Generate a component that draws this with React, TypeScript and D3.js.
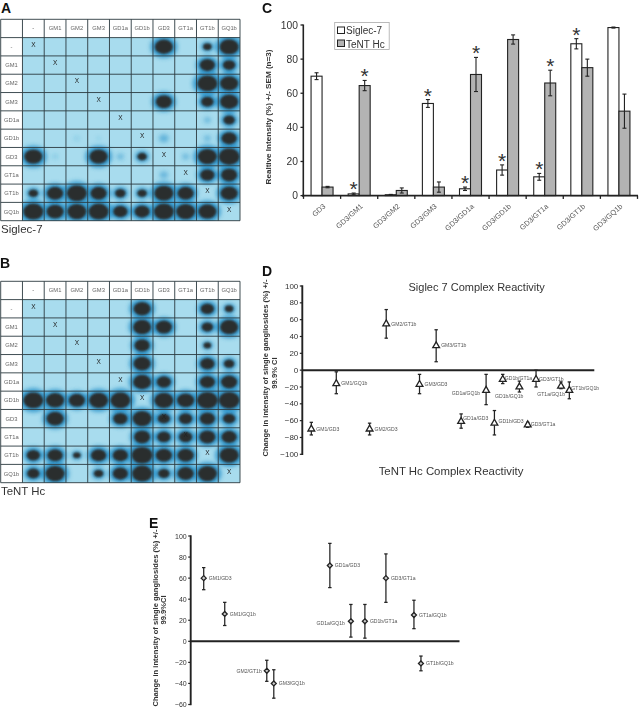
import React from "react";
import * as d3 from "d3";

const FONT = "'Liberation Sans', Arial, sans-serif";
const DARK = "#222";

const gangliosides = ["-", "GM1", "GM2", "GM3", "GD1a", "GD1b", "GD3", "GT1a", "GT1b", "GQ1b"];

const blotA = [
  [0, 0, 0, 0, 0, 0, 0.95, 0, 0.45, 1],
  [0, 0, 0, 0, 0, 0, 0, 0, 0.8, 0.65],
  [0, 0, 0, 0, 0, 0, 0, 0, 1.05, 0.95],
  [0, 0, 0, 0, 0, 0, 0.85, 0, 0.65, 0.95],
  [0, 0, 0, 0, 0, 0, 0, 0, 0.2, 0.6],
  [0, 0, 0.08, 0.04, 0, 0, 0.3, 0, 0.2, 0.8],
  [0.95, 0.1, 0, 0.95, 0.2, 0.5, 0, 0.2, 1, 1.1],
  [0, 0, 0, 0, 0, 0, 0.25, 0, 0.75, 0.85],
  [0.5, 0.85, 1.05, 0.85, 0.55, 0.5, 1, 0.85, 0, 0.9],
  [1.05, 0.9, 1.0, 1.05, 0.75, 0.8, 1.05, 1, 0.95, 0],
];
const blotB = [
  [0, 0, 0, 0, 0, 0.9, 0, 0, 0.7, 0.45],
  [0, 0, 0, 0, 0, 0.95, 0.85, 0, 0.6, 0.95],
  [0, 0, 0, 0, 0, 0.8, 0, 0, 0.4, 0],
  [0, 0, 0, 0, 0, 0.9, 0, 0, 0.75, 0.55],
  [0, 0, 0, 0, 0, 0.95, 0.75, 0, 0.8, 0.85],
  [1.05, 0.95, 0.85, 1, 1.05, 0, 1, 0.9, 1.1, 1.1],
  [0, 0.9, 0, 0, 0.75, 1, 0.65, 0.7, 0.8, 0.65],
  [0, 0, 0, 0, 0, 0.85, 0.7, 0.7, 0.85, 0.8],
  [0.7, 0.8, 0.4, 0.8, 0.8, 1.1, 0.85, 0.85, 0, 1],
  [0.65, 1, 0, 0.5, 0.8, 1.05, 0.6, 0.85, 1, 0],
];

const pairsC = ["GD3", "GD3/GM1", "GD3/GM2", "GD3/GM3", "GD3/GD1a", "GD3/GD1b", "GD3/GT1a", "GD3/GT1b", "GD3/GQ1b"];
const siglecValues = [70, 1, 0.5, 54, 4, 15, 11, 89, 98.5];
const siglecErrors = [2, 0.5, 0.2, 2.3, 1, 3, 2, 3, 0.3];
const tentValues = [5, 64.5, 3, 5, 71, 91.5, 66, 75, 49.5];
const tentErrors = [0.4, 3, 1.5, 3, 10, 2.7, 7.5, 5, 10];
const siglecStars = [false, true, false, true, true, true, true, true, false];
const tentStars = [false, true, false, false, true, false, true, false, false];
const ticksC = [0, 20, 40, 60, 80, 100];

const labelsD = ["GM1/GD3", "GM1/GQ1b", "GM2/GD3", "GM2/GT1b", "GM3/GD3", "GM3/GT1b", "GD1a/GD3", "GD1a/GQ1b", "GD1b/GD3", "GD1b/GT1a", "GD1b/GQ1b", "GD3/GT1a", "GD3/GT1b", "GT1a/GQ1b", "GT1b/GQ1b"];
const orderD = [1, 4, 8, 10, 14, 16, 19, 22, 23, 24, 26, 27, 28, 31, 32];
const valuesD = [-70, -16, -70, 55, -17, 29, -61, -24, -63, -11, -20, -65, -11, -19, -24];
const lowD = [-77, -28, -77, 38, -28, 10, -69, -41, -77, -16, -26, -68, -20, -22, -34];
const highD = [-62, -2, -63, 72, -5, 48, -52, -5, -48, -5, -13, -62, 0, -14, -14];
const ticksD = [-100, -80, -60, -40, -20, 0, 20, 40, 60, 80, 100];
const labelOffsetD: Record<string, [number, number, string]> = {
  "GD1a/GQ1b": [-6, 3, "end"],
  "GD1b/GQ1b": [4, 9, "end"],
  "GT1a/GQ1b": [4, 8, "end"],
  "GD1b/GT1a": [2, -1, "start"],
  "GT1b/GQ1b": [2, -2, "start"],
  "GD3/GT1b": [3, 0, "start"],
  "GD1a/GD3": [2, -3, "start"],
  "GD1b/GD3": [4, -2, "start"],
  "GD3/GT1a": [3, -1, "start"],
};

const labelsE = ["GM1/GD3", "GM1/GQ1b", "GM2/GT1b", "GM3/GQ1b", "GD1a/GD3", "GD1a/GQ1b", "GD1b/GT1a", "GD3/GT1a", "GT1a/GQ1b", "GT1b/GQ1b"];
const orderE = [2, 5, 11, 12, 20, 23, 25, 28, 32, 33];
const valuesE = [60, 26, -28, -40, 72, 19, 19, 60, 25, -21];
const lowE = [49, 15, -38, -54, 51, 4, 3, 37, 12, -28];
const highE = [70, 37, -18, -27, 93, 35, 35, 83, 39, -14];
const ticksE = [-60, -40, -20, 0, 20, 40, 60, 80, 100];
const labelOffsetE: Record<string, [number, number, string]> = {
  "GM2/GT1b": [-5, 0, "end"],
  "GD1a/GQ1b": [-6, 2, "end"],
};

function Blot({ top, bottom, matrix, labels, id }: any) {
  const x = d3.scaleBand<number>().domain(d3.range(11)).range([0.7, 240]);
  const y = d3.scaleBand<number>().domain(d3.range(11)).range([top, bottom]);
  const bw = x.bandwidth();
  const bh = y.bandwidth();
  const spots = matrix.flatMap((row: number[], r: number) =>
    row.map((v, c) => ({ r, c, v })).filter((d) => d.v > 0)
  );
  const cx = (c: number) => x(c + 1)! + bw / 2;
  const cy = (r: number) => y(r + 1)! + bh / 2;
  return (
    <g>
      <clipPath id={id}>
        <rect x={x(1)} y={y(1)} width={240 - x(1)!} height={bottom - y(1)!} />
      </clipPath>
      <rect x={x(1)} y={y(1)} width={240 - x(1)!} height={bottom - y(1)!} fill="#a8dcee" />
      <g clipPath={`url(#${id})`}>
        <g filter="url(#halo)">
          {spots.map((d: any) => (
            <ellipse key={`h${d.r}-${d.c}`} cx={cx(d.c)} cy={cy(d.r)} rx={d.v * 13 + 1} ry={d.v * 10.5 + 1} fill="#3398cc" opacity={Math.min(0.95, d.v + 0.3)} />
          ))}
        </g>
        <g filter="url(#core)">
          {spots.filter((d: any) => d.v >= 0.35).map((d: any) => (
            <ellipse key={`s${d.r}-${d.c}`} cx={cx(d.c)} cy={cy(d.r)} rx={d.v * 9.6} ry={d.v * 7.6} fill="#2a2d2f" />
          ))}
        </g>
      </g>
      {d3.range(12).map((i) => {
        const xp = i === 11 ? 240 : x(i)!;
        const yp = i === 11 ? bottom : y(i)!;
        return (
          <g key={i}>
            <line x1={xp} x2={xp} y1={top} y2={bottom} stroke="#2b3a40" strokeWidth={0.9} />
            <line x1={0.7} x2={240} y1={yp} y2={yp} stroke="#2b3a40" strokeWidth={0.9} />
          </g>
        );
      })}
      {labels.map((c: string, i: number) => (
        <g key={i}>
          <text x={x(i + 1)! + bw / 2} y={y(0)! + bh / 2 + 2} fontSize={5.8} fill="#666" textAnchor="middle">{c}</text>
          <text x={x(0)! + bw / 2} y={y(i + 1)! + bh / 2 + 2} fontSize={5.8} fill="#666" textAnchor="middle">{c}</text>
          <text x={cx(i)} y={cy(i)} fontSize={6.5} fill="#222" textAnchor="middle">X</text>
        </g>
      ))}
    </g>
  );
}

function ChartC() {
  const x0 = d3.scaleBand().domain(pairsC).range([303.5, 637.5]);
  const inner = d3.scaleBand().domain(["s", "t"]).range([0, 22]);
  const y = d3.scaleLinear().domain([0, 100]).range([195.6, 25]);
  const bx = (p: string) => x0(p)! + x0.bandwidth() / 2 - 11;
  const Err = ({ cx, v, e }: any) => (
    <g stroke={DARK} strokeWidth={1.1}>
      <line x1={cx} x2={cx} y1={y(v - e)} y2={y(v + e)} />
      <line x1={cx - 2} x2={cx + 2} y1={y(v - e)} y2={y(v - e)} />
      <line x1={cx - 2} x2={cx + 2} y1={y(v + e)} y2={y(v + e)} />
    </g>
  );
  const Star = ({ cx, yy }: any) => (
    <text x={cx} y={yy} fontSize={21} textAnchor="middle" fill="#333">*</text>
  );
  return (
    <g>
      {pairsC.map((p, i) => (
        <g key={p}>
          <rect x={bx(p) + inner("s")!} y={y(siglecValues[i])} width={inner.bandwidth()} height={y(0) - y(siglecValues[i])} fill="#fff" stroke={DARK} strokeWidth={1.1} />
          <rect x={bx(p) + inner("t")!} y={y(tentValues[i])} width={inner.bandwidth()} height={y(0) - y(tentValues[i])} fill="#b3b3b3" stroke={DARK} strokeWidth={1.1} />
          <Err cx={bx(p) + 5.5} v={siglecValues[i]} e={siglecErrors[i]} />
          <Err cx={bx(p) + 16.5} v={tentValues[i]} e={tentErrors[i]} />
          {siglecStars[i] && <Star cx={bx(p) + 5.5} yy={y(siglecValues[i] + siglecErrors[i]) + 3} />}
          {tentStars[i] && <Star cx={bx(p) + 16.5} yy={y(tentValues[i] + tentErrors[i]) + 3} />}
          <text transform={`translate(${x0(p)! + x0.bandwidth() / 2 + 4},${207}) rotate(-42)`} fontSize={7.3} fill="#555" textAnchor="end">{p}</text>
        </g>
      ))}
      <line x1={303.3} x2={303.3} y1={24.5} y2={197} stroke={DARK} strokeWidth={1.6} />
      <line x1={302} x2={638} y1={y(0)} y2={y(0)} stroke={DARK} strokeWidth={1.8} />
      {ticksC.map((t) => (
        <g key={t}>
          <line x1={300.5} x2={303.3} y1={y(t)} y2={y(t)} stroke={DARK} strokeWidth={1.3} />
          <text x={298} y={y(t) + 3.6} fontSize={10.3} textAnchor="end" fill="#333">{t}</text>
        </g>
      ))}
      {d3.range(10).map((i) => {
        const xp = 303.5 + i * x0.step();
        return <line key={i} x1={xp} x2={xp} y1={y(0)} y2={y(0) + 3.3} stroke={DARK} strokeWidth={1.3} />;
      })}
      <text transform="translate(271,117) rotate(-90)" fontSize={8.1} fontWeight="bold" textAnchor="middle" fill="#333">Realtive Intensity (%) +/- SEM (n=3)</text>
      <rect x={334.7} y={22.5} width={54.5} height={27} fill="#fff" stroke="#aaa" strokeWidth={0.8} />
      <rect x={337.5} y={27} width={7} height={6.5} fill="#fff" stroke={DARK} strokeWidth={1} />
      <rect x={337.5} y={40} width={7} height={6.5} fill="#b3b3b3" stroke={DARK} strokeWidth={1} />
      <text x={346} y={34} fontSize={10} fill="#333">Siglec-7</text>
      <text x={346} y={47.7} fontSize={10} fill="#333">TeNT Hc</text>
    </g>
  );
}

function Scatter({ labels, order, values, low, high, ticks, x, y, axisX, symbol, offsets, size, fill, tickFont, lineEnd }: any) {
  const path = d3.symbol().type(symbol).size(size)()!;
  return (
    <g>
      <line x1={axisX} x2={axisX} y1={y(ticks[ticks.length - 1]) - 0.7} y2={y(ticks[0]) + 0.7} stroke={DARK} strokeWidth={1.9} />
      <line x1={axisX} x2={lineEnd} y1={y(0)} y2={y(0)} stroke={DARK} strokeWidth={2} />
      {ticks.map((t: number) => (
        <g key={t}>
          <line x1={axisX - 2.5} x2={axisX} y1={y(t)} y2={y(t)} stroke={DARK} strokeWidth={1.2} />
          <text x={axisX - 4} y={y(t) + 2.6} fontSize={tickFont} textAnchor="end" fill="#333">{String(t).replace("-", "\u2212")}</text>
        </g>
      ))}
      {labels.map((l: string, i: number) => {
        const cx = x(order[i]);
        const off = offsets[l] || [5, 0, "start"];
        return (
          <g key={l}>
            <g stroke={DARK} strokeWidth={1.25}>
              <line x1={cx} x2={cx} y1={y(low[i])} y2={y(high[i])} />
              <line x1={cx - 1.7} x2={cx + 1.7} y1={y(low[i])} y2={y(low[i])} />
              <line x1={cx - 1.7} x2={cx + 1.7} y1={y(high[i])} y2={y(high[i])} />
            </g>
            <path d={path} transform={`translate(${cx},${y(values[i])})`} fill={fill} stroke={DARK} strokeWidth={1.3} />
            <text x={cx + off[0]} y={y(values[i]) + off[1] + 1.7} fontSize={5.1} fill="#555" textAnchor={off[2]}>{l}</text>
          </g>
        );
      })}
    </g>
  );
}

export default function App() {
  const xD = d3.scaleLinear().domain([0, 35]).range([303, 594.3]);
  const yD = d3.scaleLinear().domain([-100, 100]).range([454.3, 286]);
  const xE = d3.scaleLinear().domain([0, 38.5]).range([189.7, 459.5]);
  const yE = d3.scaleLinear().domain([-60, 100]).range([704.5, 536]);
  return (
    <svg width={639} height={708} viewBox="0 0 639 708" fontFamily={FONT} style={{ position: "absolute", left: 0, top: 0, display: "block", background: "#fff" }}>
      <defs>
        <filter id="halo" x="-30%" y="-30%" width="160%" height="160%"><feGaussianBlur stdDeviation="2.2" /></filter>
        <filter id="core" x="-30%" y="-30%" width="160%" height="160%"><feGaussianBlur stdDeviation="0.9" /></filter>
      </defs>
      <text x={1} y={12.5} fontSize={14} fontWeight="bold" fill="#111">A</text>
      <Blot id="clipA" top={19.3} bottom={220.7} matrix={blotA} labels={gangliosides} />
      <text x={1} y={233} fontSize={11.5} fill="#333">Siglec-7</text>
      <text x={0} y={268} fontSize={14} fontWeight="bold" fill="#111">B</text>
      <Blot id="clipB" top={281.3} bottom={482.7} matrix={blotB} labels={gangliosides} />
      <text x={1} y={495} fontSize={11.4} fill="#333">TeNT Hc</text>

      <text x={262} y={13} fontSize={14} fontWeight="bold" fill="#111">C</text>
      <ChartC />

      <text x={262} y={276} fontSize={14} fontWeight="bold" fill="#111">D</text>
      <text x={476.7} y={291} fontSize={11} textAnchor="middle" fill="#333">Siglec 7 Complex Reactivity</text>
      <text x={451} y={475} fontSize={11.4} textAnchor="middle" fill="#333">TeNT Hc Complex Reactivity</text>
      <text transform="translate(268,368) rotate(-90)" fontSize={7.6} fontWeight="bold" textAnchor="middle" fill="#333">Change in intensity of single gangliosides (%) +/-</text>
      <text transform="translate(276.5,373) rotate(-90)" fontSize={7.6} fontWeight="bold" textAnchor="middle" fill="#333">99.9% CI</text>
      <Scatter labels={labelsD} order={orderD} values={valuesD} low={lowD} high={highD} ticks={ticksD} x={xD} y={yD} axisX={302.3} symbol={d3.symbolTriangle} offsets={labelOffsetD} size={20} fill="#fff" tickFont={8} lineEnd={594.3} />

      <text x={149} y={528} fontSize={14} fontWeight="bold" fill="#111">E</text>
      <text transform="translate(157.5,618) rotate(-90)" fontSize={7.6} fontWeight="bold" textAnchor="middle" fill="#333">Change in intensity of single gangliosides (%) +/-</text>
      <text transform="translate(165.5,610) rotate(-90)" fontSize={7.6} fontWeight="bold" textAnchor="middle" fill="#333">99.9%CI</text>
      <Scatter labels={labelsE} order={orderE} values={valuesE} low={lowE} high={highE} ticks={ticksE} x={xE} y={yE} axisX={190.7} symbol={d3.symbolDiamond2} offsets={labelOffsetE} size={16} fill="#ccc" tickFont={7} lineEnd={459.5} />
    </svg>
  );
}
